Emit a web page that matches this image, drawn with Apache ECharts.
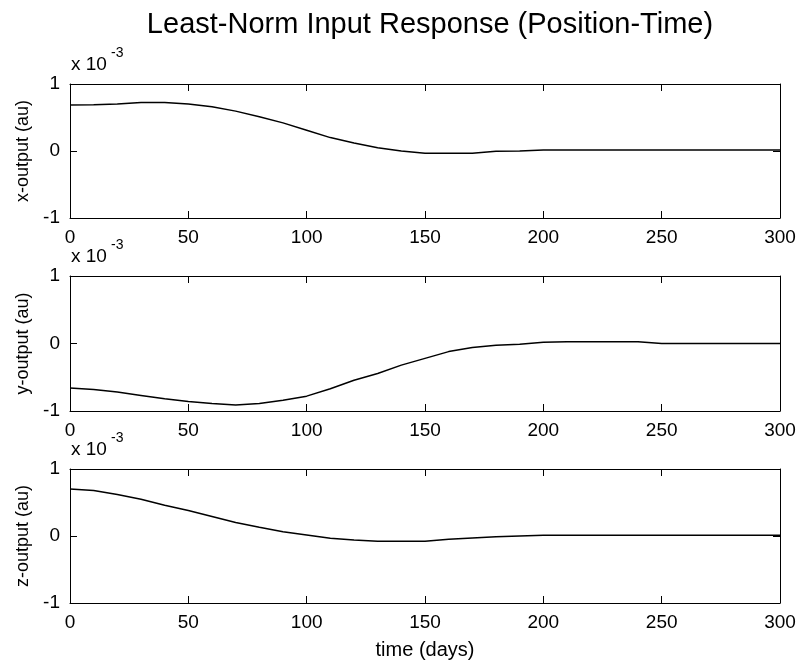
<!DOCTYPE html>
<html>
<head>
<meta charset="utf-8">
<script src="https://cdn.jsdelivr.net/npm/echarts@6/dist/echarts.min.js"></script>
<style>html,body{margin:0;padding:0;background:#fff;}#c{width:799px;height:668px;}</style>
</head>
<body>
<div id="c"></div>
<script>
// time in days
var days = [0,10,20,30,40,50,60,70,80,90,100,110,120,130,140,150,160,170,180,190,200,210,220,230,240,250,260,270,280,290,300];
// outputs in units of 1e-3 au
var xOutput = [0.685,0.69,0.70,0.725,0.725,0.70,0.66,0.595,0.51,0.42,0.31,0.20,0.12,0.05,0.0,-0.035,-0.035,-0.035,-0.005,0.0,0.015,0.015,0.015,0.015,0.015,0.015,0.015,0.015,0.015,0.015,0.015];
var yOutput = [-0.66,-0.68,-0.72,-0.77,-0.82,-0.86,-0.89,-0.91,-0.89,-0.84,-0.78,-0.67,-0.545,-0.445,-0.32,-0.22,-0.12,-0.06,-0.025,-0.01,0.02,0.025,0.025,0.025,0.025,0.0,0.0,0.0,0.0,0.0,0.0];
var zOutput = [0.70,0.68,0.62,0.55,0.46,0.38,0.29,0.20,0.13,0.065,0.015,-0.035,-0.06,-0.08,-0.08,-0.08,-0.05,-0.03,-0.01,0.0,0.01,0.01,0.01,0.01,0.01,0.01,0.01,0.01,0.01,0.01,0.01];
var yNames = ['x-output (au)','y-output (au)','z-output (au)'];
var xTicks = [0,50,100,150,200,250,300];
var yTicks = [-1,0,1];
var titleText = 'Least-Norm Input Response (Position-Time)';
var xName = 'time (days)';

var chart = echarts.init(document.getElementById('c'), null, {renderer:'canvas'});
var FONT = 'Liberation Sans, Arial, sans-serif';
var tops = [84, 276, 469];
var heights = [134, 135, 134];
var series = [xOutput, yOutput, zOutput];
var grids = [], xAxes = [], yAxes = [], ser = [], graphics = [];
for (var i = 0; i < 3; i++) {
  grids.push({left: 70, right: 19, top: tops[i], height: heights[i]});
  var axLine = {show: true, onZero: false, lineStyle: {color: '#000', width: 1}};
  var tick = {show: true, inside: true, length: 7, lineStyle: {color: '#000', width: 1}};
  xAxes.push({
    type: 'value', gridIndex: i, min: xTicks[0], max: xTicks[xTicks.length-1], interval: 50,
    position: 'bottom', axisLine: axLine, axisTick: tick,
    axisLabel: {color: '#000', fontSize: 19, fontFamily: FONT, margin: 10},
    splitLine: {show: false},
    name: i === 2 ? xName : '', nameLocation: 'middle', nameGap: 37,
    nameTextStyle: {color: '#000', fontSize: 20, fontFamily: FONT}
  });
  xAxes.push({
    type: 'value', gridIndex: i, min: xTicks[0], max: xTicks[xTicks.length-1], interval: 50,
    position: 'top', axisLine: axLine, axisTick: tick, axisLabel: {show: false}, splitLine: {show: false}
  });
  yAxes.push({
    type: 'value', gridIndex: i, min: yTicks[0], max: yTicks[yTicks.length-1], interval: 1,
    position: 'left', axisLine: axLine, axisTick: tick,
    axisLabel: {color: '#000', fontSize: 19, fontFamily: FONT, margin: 10},
    splitLine: {show: false},
    name: yNames[i], nameLocation: 'middle', nameGap: 36,
    nameTextStyle: {color: '#000', fontSize: 18, fontFamily: FONT}
  });
  yAxes.push({
    type: 'value', gridIndex: i, min: yTicks[0], max: yTicks[yTicks.length-1], interval: 1,
    position: 'right', axisLine: axLine, axisTick: tick, axisLabel: {show: false}, splitLine: {show: false}
  });
  var data = [];
  for (var k = 0; k < days.length; k++) data.push([days[k], series[i][k]]);
  ser.push({
    type: 'line', xAxisIndex: i*2, yAxisIndex: i*2, data: data, showSymbol: false, symbol: 'none',
    smooth: false, lineStyle: {color: '#000', width: 1.5}, silent: true, animation: false
  });
  graphics.push({type: 'text', left: 71, top: tops[i] - 29,
    style: {text: 'x 10', fill: '#000', font: '19px ' + FONT}});
  graphics.push({type: 'text', left: 111, top: tops[i] - 38,
    style: {text: '-3', fill: '#000', font: '14px ' + FONT}});
}

chart.setOption({
  backgroundColor: '#fff',
  animation: false,
  title: {text: titleText, left: 425, top: 5, textAlign: 'center',
    textStyle: {color: '#000', fontSize: 29, fontWeight: 'normal', fontFamily: FONT}},
  grid: grids, xAxis: xAxes, yAxis: yAxes, series: ser, graphic: graphics
});
</script>
</body>
</html>
